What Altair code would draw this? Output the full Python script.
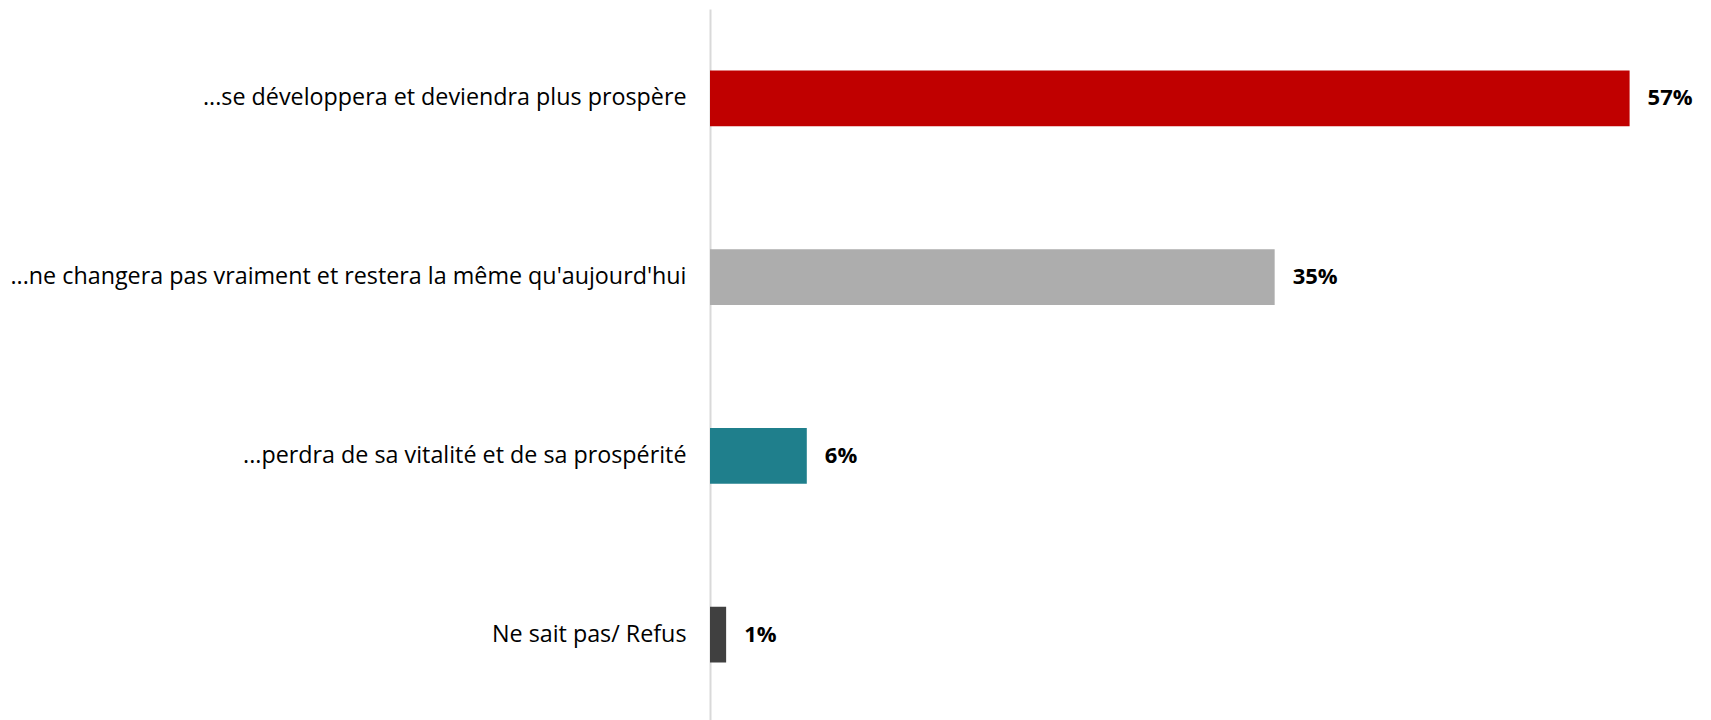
import altair as alt
import pandas as pd

categories = [
    "...se développera et deviendra plus prospère",
    "...ne changera pas vraiment et restera la même qu'aujourd'hui",
    "...perdra de sa vitalité et de sa prospérité",
    "Ne sait pas/ Refus",
]
values = [57, 35, 6, 1]
labels = ["57%", "35%", "6%", "1%"]
colors = ["#C00000", "#ADADAD", "#1F7F8C", "#404040"]

df = pd.DataFrame({"cat": categories, "val": values, "lab": labels, "col": colors})

FONT = "Open Sans"

y = alt.Y(
    "cat:N",
    sort=categories,
    title=None,
    scale=alt.Scale(paddingInner=0.687, paddingOuter=0.3435),
    axis=alt.Axis(
        ticks=False,
        grid=False,
        domain=True,
        domainColor="#D9D9D9",
        domainWidth=2,
        labelFont=FONT,
        labelFontSize=23.3,
        labelColor="#000000",
        labelPadding=24,
        labelLimit=1000,
    ),
)
x = alt.X("val:Q", scale=alt.Scale(domain=[0, 60]), axis=None, title=None)

bars = alt.Chart(df).mark_bar().encode(
    x=x, y=y, color=alt.Color("col:N", scale=None)
)
text = alt.Chart(df).mark_text(
    align="left", baseline="middle", dx=18, font=FONT, fontSize=22,
    fontWeight="bold", color="#000000"
).encode(x=x, y=alt.Y("cat:N", sort=categories), text="lab:N")

chart = (bars + text).properties(
    width=968,
    height=715,
    autosize=alt.AutoSizeParams(type="none"),
    padding={"left": 702, "top": 1, "right": 16, "bottom": 0},
).configure_view(stroke=None)

chart.save("out.html", embed_options={"renderer": "svg", "actions": False})
